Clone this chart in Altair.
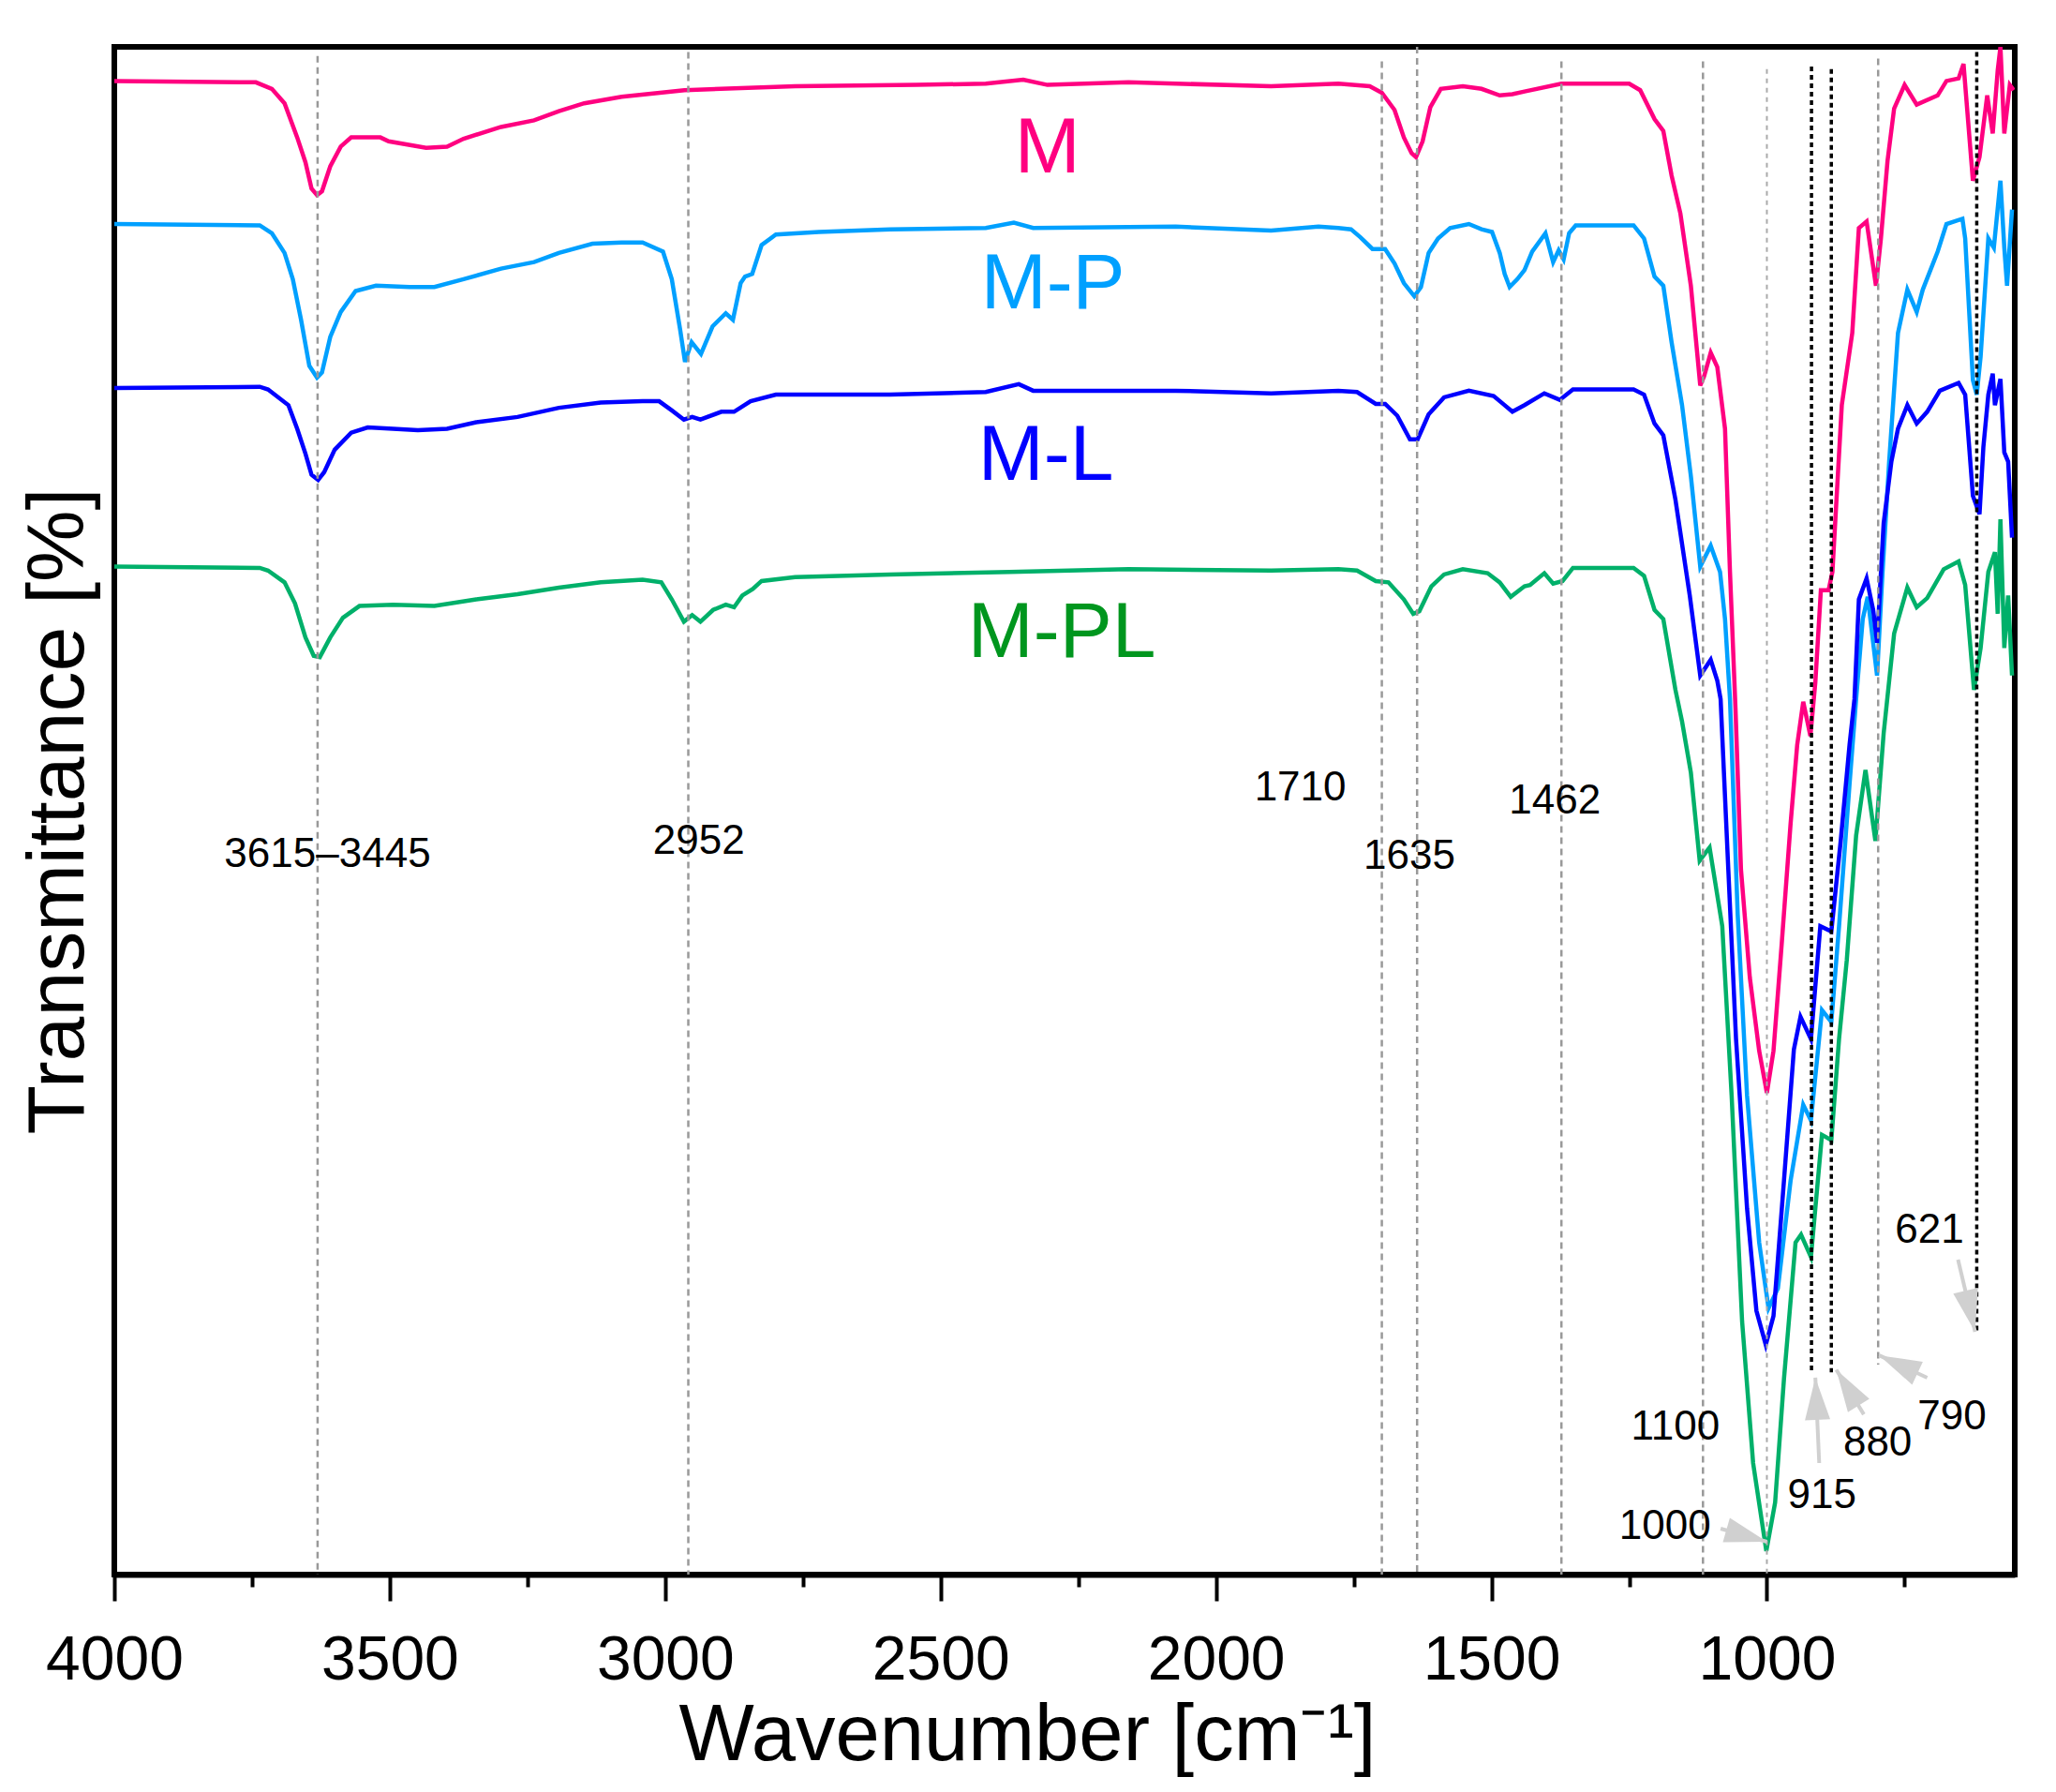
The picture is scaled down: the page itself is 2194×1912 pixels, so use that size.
import pandas as pd
import altair as alt

# FTIR spectra: (wavenumber in cm-1, transmittance in offset units)
m_pts = [(4000, 113.8), (3743, 113.7), (3714, 113.2), (3691, 112.1), (3668, 109.5), (3653, 107.6),
         (3642, 105.6), (3632, 105.1), (3623, 105.4), (3608, 107.3), (3589, 108.8), (3570, 109.5),
         (3517, 109.5), (3502, 109.2), (3434, 108.7), (3396, 108.8), (3366, 109.4), (3298, 110.3),
         (3238, 110.8), (3193, 111.5), (3147, 112.1), (3079, 112.6), (2965, 113.1), (2764, 113.4),
         (2544, 113.5), (2418, 113.6), (2350, 113.9), (2306, 113.5), (2159, 113.7), (1900, 113.4),
         (1778, 113.6), (1721, 113.4), (1699, 112.9), (1676, 111.6), (1659, 109.5), (1645, 108.3),
         (1637, 108.0), (1625, 109.2), (1611, 111.8), (1592, 113.2), (1552, 113.4), (1518, 113.2),
         (1485, 112.7), (1462, 112.8), (1440, 113.0), (1373, 113.6), (1250, 113.6), (1230, 113.1),
         (1204, 110.9), (1188, 110.0), (1173, 106.6), (1157, 103.7), (1138, 98.2), (1121, 90.6),
         (1114, 91.3), (1102, 93.1), (1090, 92.0), (1076, 87.3), (1067, 76.4), (1057, 66.0),
         (1047, 53.7), (1031, 45.5), (1014, 39.9), (1000, 36.7), (988, 39.9), (973, 48.1),
         (957, 57.2), (945, 63.2), (934, 66.5), (921, 63.9), (912, 68.0), (902, 75.0), (888, 75.0),
         (881, 76.4), (864, 89.1), (845, 94.6), (833, 102.6), (819, 103.1), (802, 98.2), (793, 101.8),
         (781, 107.7), (769, 111.7), (750, 113.5), (728, 112.0), (690, 112.7), (674, 113.8),
         (652, 114.0), (643, 115.1), (626, 106.2), (614, 108.0), (600, 112.7), (590, 109.8),
         (581, 114.6), (576, 116.4), (569, 109.8), (559, 113.5), (552, 113.1)]

mp_pts = [(4000, 102.9), (3736, 102.8), (3714, 102.2), (3691, 100.7), (3676, 98.7), (3661, 95.6),
          (3646, 92.1), (3632, 91.2), (3623, 91.6), (3608, 94.3), (3589, 96.2), (3562, 97.8),
          (3525, 98.2), (3464, 98.1), (3419, 98.1), (3366, 98.7), (3298, 99.5), (3238, 100.0),
          (3193, 100.7), (3132, 101.4), (3079, 101.5), (3041, 101.5), (3004, 100.8), (2988, 98.7),
          (2973, 94.9), (2964, 92.4), (2952, 93.9), (2935, 93.0), (2914, 95.1), (2890, 96.1),
          (2877, 95.6), (2863, 98.4), (2855, 98.9), (2842, 99.1), (2825, 101.3), (2799, 102.1),
          (2721, 102.3), (2592, 102.5), (2418, 102.6), (2367, 103.0), (2332, 102.6), (2073, 102.7),
          (1900, 102.4), (1814, 102.7), (1778, 102.6), (1755, 102.5), (1738, 101.9), (1716, 101.0),
          (1693, 101.0), (1676, 99.9), (1659, 98.4), (1640, 97.4), (1628, 98.1), (1614, 100.7),
          (1597, 101.8), (1575, 102.6), (1541, 102.9), (1518, 102.5), (1499, 102.3), (1485, 100.7),
          (1476, 99.1), (1467, 98.1), (1453, 98.7), (1440, 99.4), (1426, 100.8), (1402, 102.2),
          (1388, 100.0), (1378, 100.9), (1369, 100.2), (1359, 102.2), (1347, 102.8), (1242, 102.8),
          (1223, 101.8), (1204, 98.9), (1188, 98.2), (1173, 93.9), (1154, 89.1), (1138, 83.7),
          (1121, 76.8), (1102, 78.4), (1085, 76.4), (1076, 72.8), (1067, 66.7), (1053, 50.3),
          (1036, 36.5), (1014, 25.3), (997, 20.3), (980, 21.8), (957, 30.0), (934, 35.8),
          (920, 34.6), (900, 43.0), (883, 42.1), (869, 49.4), (850, 60.2), (838, 66.7), (826, 72.8),
          (817, 74.5), (800, 68.5), (790, 76.4), (778, 84.8), (762, 94.6), (745, 97.9), (728, 96.2),
          (717, 97.9), (690, 100.8), (674, 102.9), (645, 103.3), (640, 101.8), (626, 91.0),
          (619, 89.9), (612, 92.8), (598, 101.8), (588, 101.1), (576, 106.2), (569, 101.1),
          (564, 98.2), (555, 104.0)]

ml_pts = [(4000, 90.4), (3736, 90.5), (3721, 90.3), (3684, 89.1), (3668, 87.3), (3653, 85.4),
          (3642, 83.8), (3630, 83.4), (3619, 84.0), (3600, 85.7), (3570, 87.0), (3540, 87.4),
          (3494, 87.3), (3449, 87.2), (3396, 87.3), (3343, 87.8), (3268, 88.2), (3193, 88.9),
          (3117, 89.3), (3041, 89.4), (3011, 89.4), (2988, 88.7), (2966, 88.0), (2951, 88.2),
          (2936, 88.0), (2898, 88.6), (2875, 88.6), (2845, 89.4), (2799, 89.9), (2592, 89.9),
          (2418, 90.1), (2358, 90.7), (2332, 90.2), (2073, 90.2), (1900, 90.0), (1778, 90.2),
          (1744, 90.1), (1710, 89.2), (1693, 89.2), (1671, 88.3), (1648, 86.5), (1634, 86.5),
          (1614, 88.4), (1586, 89.7), (1541, 90.2), (1496, 89.8), (1479, 89.2), (1462, 88.6),
          (1440, 89.1), (1404, 90.0), (1376, 89.5), (1352, 90.3), (1242, 90.3), (1223, 89.9),
          (1204, 87.7), (1188, 86.8), (1166, 81.9), (1140, 74.6), (1121, 68.5), (1102, 69.7),
          (1090, 68.1), (1084, 66.7), (1070, 53.7), (1056, 40.8), (1036, 27.9), (1019, 20.1),
          (1002, 17.5), (988, 19.7), (969, 30.0), (951, 40.0), (939, 42.5), (920, 40.8),
          (903, 49.4), (883, 49.0), (866, 55.9), (850, 63.2), (841, 66.7), (833, 74.3), (819, 75.9),
          (807, 73.5), (800, 71.0), (788, 80.1), (774, 84.8), (762, 87.3), (745, 89.1), (728, 87.7),
          (709, 88.6), (686, 90.2), (652, 90.8), (640, 89.9), (626, 82.2), (614, 80.8), (607, 85.9),
          (598, 89.9), (590, 91.5), (586, 89.1), (576, 91.1), (569, 85.5), (562, 84.8), (555, 79.0)]

mpl_pts = [(4000, 76.8), (3736, 76.7), (3721, 76.5), (3691, 75.6), (3672, 74.0), (3653, 71.4),
           (3638, 70.0), (3627, 69.9), (3608, 71.4), (3585, 72.9), (3555, 73.8), (3494, 73.9),
           (3419, 73.8), (3343, 74.3), (3268, 74.7), (3193, 75.2), (3117, 75.6), (3041, 75.8),
           (3007, 75.6), (2988, 74.3), (2966, 72.6), (2951, 73.1), (2936, 72.6), (2913, 73.5),
           (2890, 73.9), (2875, 73.7), (2860, 74.6), (2841, 75.1), (2825, 75.7), (2764, 76.0),
           (2592, 76.2), (2375, 76.4), (2159, 76.6), (1900, 76.5), (1778, 76.6), (1744, 76.5),
           (1710, 75.7), (1687, 75.6), (1659, 74.3), (1642, 73.2), (1631, 73.4), (1609, 75.3),
           (1586, 76.2), (1552, 76.6), (1507, 76.3), (1485, 75.6), (1465, 74.5), (1440, 75.3),
           (1430, 75.4), (1404, 76.3), (1388, 75.5), (1371, 75.7), (1352, 76.7), (1242, 76.7),
           (1223, 76.1), (1204, 73.5), (1188, 72.8), (1166, 67.4), (1154, 65.0), (1138, 61.1),
           (1122, 54.4), (1104, 55.4), (1081, 49.4), (1064, 36.5), (1045, 19.3), (1025, 8.5),
           (1001, 1.8), (985, 5.5), (969, 14.9), (948, 25.3), (938, 25.9), (920, 24.2), (900, 33.5),
           (883, 33.1), (869, 40.8), (855, 46.8), (838, 56.3), (821, 61.3), (803, 55.9), (788, 64.1),
           (769, 71.7), (745, 75.2), (728, 73.7), (709, 74.4), (679, 76.6), (652, 77.2), (640, 75.4),
           (624, 67.4), (612, 70.6), (598, 76.4), (586, 77.9), (581, 73.2), (576, 80.4), (569, 70.6),
           (562, 74.6), (555, 68.5)]

series_names = ["M", "M-P", "M-L", "M-PL"]
line_colors = ["#ff0080", "#00a0ff", "#0000ff", "#00b06a"]
label_colors = ["#ff0080", "#00a0ff", "#0000ff", "#00961e"]
# where the sample names sit: (wavenumber, transmittance)
name_pos = [(2306, 106.8), (2296, 96.5), (2309, 83.4), (2280, 69.9)]

# band marker lines: (wavenumber, top, bottom)
gray_lines = [(3631, 115.7, 0), (2958, 116.0, 0), (1699, 115.3, 0), (1635, 116.4, 0),
              (1373, 115.3, 0), (1116, 115.3, 0), (798, 115.5, 16.0)]
light_lines = [(1000, 114.7, 0)]
black_lines = [(919, 114.9, 15.4), (883, 114.7, 15.4), (619, 116.0, 18.5)]

# band labels: (text, wavenumber, transmittance)
band_labels = [("3615\u20133445", 3613, 53.9), ("2952", 2939, 54.9), ("1710", 1847, 59.0),
               ("1635", 1649, 53.8), ("1462", 1385, 58.0), ("1100", 1166, 10.3),
               ("1000", 1185, 2.7), ("915", 900, 5.1), ("880", 799, 9.1),
               ("790", 664, 11.1), ("621", 705, 25.3)]

# gray arrows: tail (wn, T), tip (wn, T)
arrow_tails = [(1084, 3.5), (905, 8.5), (824, 12.2), (709, 15.0), (653, 24.0)]
arrow_tips = [(1000, 2.5), (912, 15.0), (874, 15.6), (796, 16.7), (622, 18.5)]
arrow_angles = [106, 357, 328, 295, 167]

FONT = "Liberation Sans"

frames = []
for name, pts in zip(series_names, [m_pts, mp_pts, ml_pts, mpl_pts]):
    d = pd.DataFrame(pts, columns=["wn", "T"])
    d["series"] = name
    frames.append(d)
spectra = pd.concat(frames, ignore_index=True)

gray_df = pd.DataFrame(gray_lines, columns=["wn", "T", "T2"])
light_df = pd.DataFrame(light_lines, columns=["wn", "T", "T2"])
black_df = pd.DataFrame(black_lines, columns=["wn", "T", "T2"])
band_df = pd.DataFrame(band_labels, columns=["label", "wn", "T"])
names_df = pd.DataFrame({"series": series_names,
                         "wn": [p[0] for p in name_pos],
                         "T": [p[1] for p in name_pos]})
shaft_df = pd.DataFrame({"wn": [a[0] for a in arrow_tails], "T": [a[1] for a in arrow_tails],
                         "wn2": [a[0] for a in arrow_tips], "T2": [a[1] for a in arrow_tips]})
head_df = pd.DataFrame({"wn": [a[0] for a in arrow_tips], "T": [a[1] for a in arrow_tips],
                        "angle": arrow_angles})

x_scale = alt.Scale(domain=[4000, 550], nice=False, zero=False)
y_scale = alt.Scale(domain=[0, 116.4], nice=False, zero=False)

x_axis = alt.Axis(title="Wavenumber [cm\u207b\u00b9]", values=list(range(4000, 749, -250)),
                  format="d", labelExpr="datum.value % 500 === 0 ? datum.label : ''",
                  labelOverlap=False, labelFlush=False, grid=False,
                  tickSize={"condition": {"test": "datum.value % 500 === 0", "value": 28}, "value": 13},
                  tickWidth=4, tickColor="black", domainColor="black", domainWidth=6,
                  labelFont=FONT, labelFontSize=66, labelColor="black",
                  labelBaseline="alphabetic", labelPadding=83,
                  titleFont=FONT, titleFontSize=85, titleFontWeight="normal", titleColor="black",
                  titleX=974, titleY=197, titleBaseline="alphabetic", titleAlign="center")
y_axis = alt.Axis(title="Transmittance [%]", labels=False, ticks=False, domain=False, grid=False,
                  titleFont=FONT, titleFontSize=86, titleFontWeight="normal", titleColor="black",
                  titleAngle=270, titleX=-34, titleY=815, titleBaseline="alphabetic",
                  titleAlign="center")


def xy(df_chart):
    return df_chart.encode(x=alt.X("wn:Q", scale=x_scale, axis=x_axis),
                           y=alt.Y("T:Q", scale=y_scale, axis=y_axis))


lines = xy(alt.Chart(spectra).mark_line(strokeWidth=4.5, clip=True)).encode(
    color=alt.Color("series:N", scale=alt.Scale(domain=series_names, range=line_colors), legend=None)
)

gray = xy(alt.Chart(gray_df).mark_rule(color="#999999", strokeWidth=2.5, strokeDash=[7, 5])).encode(y2="T2:Q")
light = xy(alt.Chart(light_df).mark_rule(color="#aaaaaa", strokeWidth=2, strokeDash=[5, 5])).encode(y2="T2:Q")
black = xy(alt.Chart(black_df).mark_rule(color="black", strokeWidth=3.5, strokeDash=[5, 4])).encode(y2="T2:Q")

shafts = xy(alt.Chart(shaft_df).mark_rule(color="#d0d0d0", strokeWidth=4)).encode(x2="wn2:Q", y2="T2:Q")
heads = xy(alt.Chart(head_df).mark_point(shape="M0,0L0.3,1L-0.3,1Z", filled=True, size=8100,
                                         color="#d0d0d0", opacity=1)).encode(
    angle=alt.Angle("angle:Q", scale=None)
)

bands = xy(alt.Chart(band_df).mark_text(font=FONT, fontSize=44, baseline="alphabetic",
                                        align="center", color="black")).encode(text="label:N")

names = xy(alt.Chart(names_df).mark_text(font=FONT, fontSize=84, baseline="alphabetic",
                                         align="center")).encode(
    text="series:N",
    color=alt.Color("series:N", scale=alt.Scale(domain=series_names, range=label_colors), legend=None)
)

chart = alt.layer(lines, gray, light, black, shafts, heads, bands, names).resolve_scale(
    color="independent"
).properties(
    width=2028, height=1630,
    padding={"left": 114, "top": 42, "right": 20, "bottom": 220},
    autosize=alt.AutoSizeParams(type="none"),
    background="white"
).configure_view(stroke="black", strokeWidth=6)

chart.save("out.html", embed_options={"renderer": "svg", "actions": False})
